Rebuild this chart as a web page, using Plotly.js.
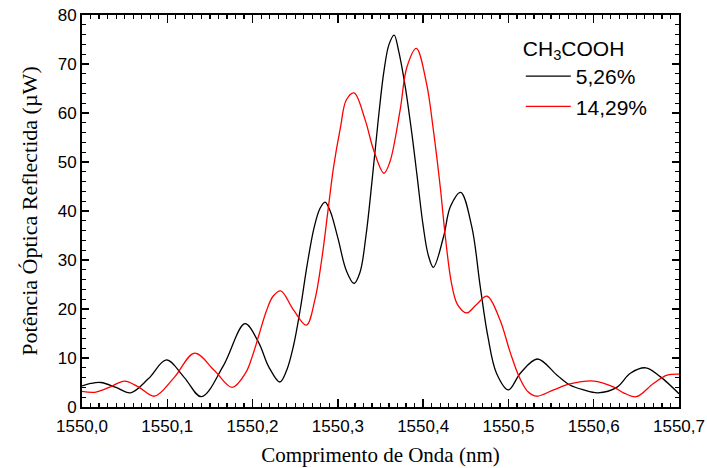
<!DOCTYPE html>
<html>
<head>
<meta charset="utf-8">
<script src="https://cdn.plot.ly/plotly-3.0.1.min.js"></script>
<style>
  html, body { margin: 0; padding: 0; background: #fff; }
  #chart { width: 707px; height: 468px; }
</style>
</head>
<body>
<div id="chart"></div>
<script>
// Reflected optical power spectra of the grating for two CH3COOH concentrations
const seriesNames = ['5,26%', '14,29%'];

// wavelength (nm) and power (µW) for 5,26 %
const wl526 = [1550.000, 1550.010, 1550.022, 1550.040, 1550.057, 1550.078, 1550.099, 1550.120,
  1550.140, 1550.166, 1550.191, 1550.207, 1550.219, 1550.232, 1550.240, 1550.248, 1550.256,
  1550.264, 1550.272, 1550.279, 1550.285, 1550.291, 1550.300, 1550.310, 1550.319, 1550.326,
  1550.333, 1550.340, 1550.347, 1550.354, 1550.360, 1550.366, 1550.371, 1550.379, 1550.387,
  1550.393, 1550.400, 1550.406, 1550.412, 1550.424, 1550.432, 1550.444, 1550.457, 1550.467,
  1550.476, 1550.486, 1550.500, 1550.514, 1550.534, 1550.557, 1550.572, 1550.588, 1550.605,
  1550.627, 1550.643, 1550.661, 1550.678, 1550.700];
const pw526 = [4.3, 4.8, 5.0, 4.0, 2.9, 5.8, 9.6, 6.0,
  2.1, 8.5, 17.0, 13.2, 8.2, 5.1, 7.5, 12.5, 20.0,
  29.0, 36.5, 40.5, 41.8, 40.0, 34.5, 27.8, 25.2, 27.5,
  35.0, 46.0, 58.0, 68.5, 74.0, 75.9, 72.9, 65.4, 55.5,
  47.0, 37.0, 31.0, 28.5, 34.8, 40.9, 43.8, 36.8, 24.5,
  14.3, 6.9, 3.5, 6.9, 9.8, 6.5, 4.5, 3.5, 2.9,
  4.0, 6.9, 8.0, 6.2, 2.7];

// wavelength (nm) and power (µW) for 14,29 %
const wl1429 = [1550.000, 1550.015, 1550.032, 1550.050, 1550.067, 1550.085, 1550.108, 1550.132,
  1550.155, 1550.176, 1550.192, 1550.200, 1550.208, 1550.216, 1550.224, 1550.233, 1550.248,
  1550.263, 1550.273, 1550.281, 1550.289, 1550.295, 1550.303, 1550.310, 1550.319, 1550.332,
  1550.342, 1550.354, 1550.361, 1550.373, 1550.381, 1550.392, 1550.404, 1550.412, 1550.420,
  1550.426, 1550.433, 1550.440, 1550.451, 1550.462, 1550.475, 1550.490, 1550.502, 1550.513,
  1550.523, 1550.533, 1550.553, 1550.572, 1550.600, 1550.623, 1550.635, 1550.650, 1550.670,
  1550.686, 1550.700];
const pw1429 = [3.2, 3.0, 4.0, 5.3, 4.0, 2.2, 6.0, 11.0,
  7.5, 4.0, 7.0, 10.5, 15.0, 19.5, 22.6, 23.7, 19.8,
  16.7, 21.8, 30.0, 40.9, 49.0, 57.0, 62.7, 64.1, 58.6,
  52.4, 47.7, 50.0, 60.6, 69.4, 73.2, 66.0, 56.5, 45.0,
  34.8, 25.5, 21.0, 19.2, 20.8, 22.6, 17.8, 11.2, 6.0,
  3.1, 2.2, 3.5, 4.7, 5.3, 4.1, 2.9, 2.1, 4.8,
  6.5, 6.7];

const xTickVals = [1550.0, 1550.1, 1550.2, 1550.3, 1550.4, 1550.5, 1550.6, 1550.7];
const xTickText = ['1550,0', '1550,1', '1550,2', '1550,3', '1550,4', '1550,5', '1550,6', '1550,7'];
const yTickVals = [0, 10, 20, 30, 40, 50, 60, 70, 80];

const sans = 'Arial, "Liberation Sans", sans-serif';
const serif = '"Times New Roman", "Liberation Serif", serif';

const traces = [
  { x: wl526, y: pw526, name: seriesNames[0], mode: 'lines',
    line: { color: '#000000', width: 1.3, shape: 'spline', smoothing: 1 } },
  { x: wl1429, y: pw1429, name: seriesNames[1], mode: 'lines',
    line: { color: '#ff0000', width: 1.3, shape: 'spline', smoothing: 1 } }
];

const axisCommon = {
  showline: true, linecolor: '#000', linewidth: 2, mirror: 'allticks',
  ticks: 'inside', tickcolor: '#000', tickwidth: 1.5,
  showgrid: false, zeroline: false,
  tickfont: { family: sans, size: 17, color: '#000' }
};

const layout = {
  width: 707, height: 468,
  margin: { l: 82, r: 28, t: 15, b: 61 },
  paper_bgcolor: '#fff', plot_bgcolor: '#fff',
  showlegend: true,
  xaxis: Object.assign({}, axisCommon, {
    range: [1550.0, 1550.7],
    tickvals: xTickVals, ticktext: xTickText, ticklen: 8,
    ticklabelstandoff: 3,
    minor: { dtick: 0.01, ticks: 'inside', ticklen: 4, tickcolor: '#000', tickwidth: 1.2 },
    title: { text: 'Comprimento de Onda (nm)', font: { family: serif, size: 21, color: '#000' }, standoff: 12 }
  }),
  yaxis: Object.assign({}, axisCommon, {
    range: [0, 80],
    tickvals: yTickVals, ticklen: 7,
    minor: { dtick: 2, ticks: 'inside', ticklen: 4, tickcolor: '#000', tickwidth: 1.2 },
    title: { text: 'Potência Óptica Reflectida (µW)', font: { family: serif, size: 22, color: '#000' }, standoff: 14 }
  }),
  legend: {
    x: 0.735, y: 0.965, xanchor: 'left', yanchor: 'top',
    bgcolor: 'rgba(0,0,0,0)', borderwidth: 0,
    itemwidth: 45,
    font: { family: sans, size: 21, color: '#000' },
    title: { text: 'CH<sub>3</sub>COOH', font: { family: sans, size: 21, color: '#000' } },
    tracegroupgap: 0
  }
};

Plotly.newPlot('chart', traces, layout, { displayModeBar: false, staticPlot: true });
</script>
</body>
</html>
